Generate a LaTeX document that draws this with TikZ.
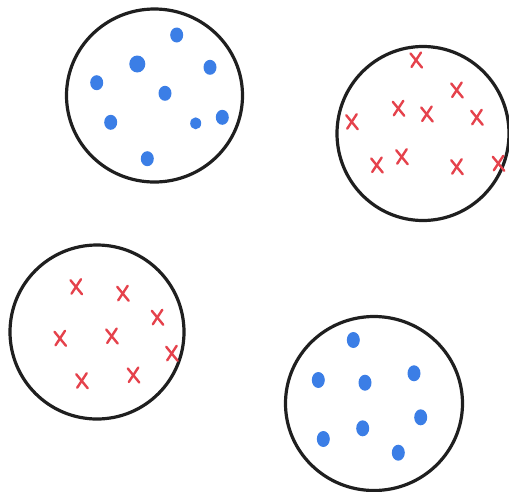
\documentclass[tikz,border=0pt]{standalone}
\begin{document}
\begin{tikzpicture}[x=1pt,y=-1pt,
  ring/.style={draw=black!88, line width=3.2pt},
  dot/.style={fill=dotblue, draw=none},
  xstroke/.style={draw=xred, line width=2.4pt, line cap=round},
  xmark/.pic={\draw[xstroke] (-5.5,-6.5) -- (6,7.5); \draw[xstroke] (5,-7.5) -- (-4.5,7);}
]
\definecolor{dotblue}{HTML}{3B7EE6}
\definecolor{xred}{HTML}{E5424C}
\useasboundingbox (0,0) rectangle (509,491);
% rings
\draw[ring] (154.5,95.5) ellipse [x radius=88, y radius=86.5];
\draw[ring] (423,133.5) ellipse [x radius=86, y radius=87];
\draw[ring] (97,332) ellipse [x radius=87, y radius=87];
\draw[ring] (374,403.5) ellipse [x radius=88.5, y radius=87];
% blue dots top-left
\foreach \p in {(176.7,35),(210,67.3),(96.7,82.7),(165,93.3),(110.7,122.3),(222.3,117.3),(147.3,158.7)}
  \fill[dot] \p ellipse [x radius=6.5, y radius=7.5];
\fill[dot] (137.3,64) ellipse [x radius=8, y radius=8.5];
\fill[dot] (195.7,123.3) ellipse [x radius=5.5, y radius=6];
% blue dots bottom-right
\foreach \p in {(353.3,340),(318.3,380),(365,382.7),(414,373.3),(420.7,417.3),(362.7,428.3),(323.3,439),(398.3,452.7)}
  \fill[dot] \p ellipse [x radius=6.5, y radius=8];
% red crosses top-right
\foreach \p in {(416,60),(456.7,90),(398.3,108.3),(426.7,114),(476.7,117.3),(351.7,121.7),(376.7,165),(401.7,156.7),(456.7,166.7),(498.3,163.3)}
  \pic at \p {xmark};
% red crosses bottom-left
\foreach \p in {(76,286.7),(122.7,293.3),(157.3,317.3),(60,338.3),(111.7,336),(171.7,353.3),(81.7,380.7),(133.3,375)}
  \pic at \p {xmark};
\end{tikzpicture}
\end{document}
